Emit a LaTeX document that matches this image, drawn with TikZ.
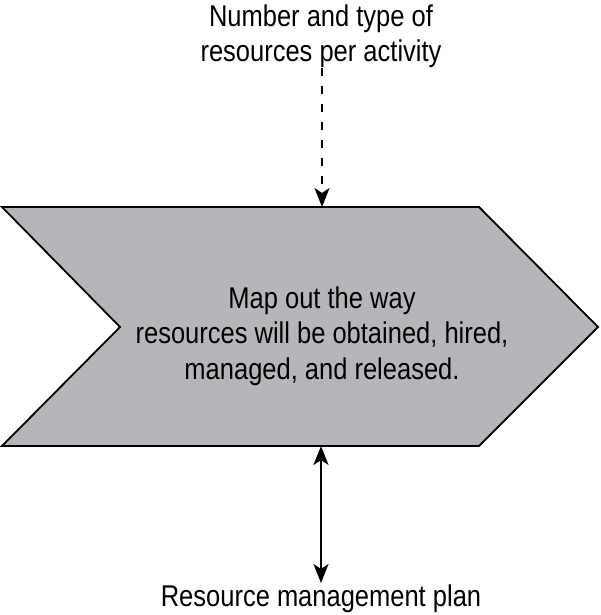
\documentclass[tikz,border=0pt]{standalone}
\usepackage{fontspec}
\setmainfont[FakeStretch=0.85]{Liberation Sans}
\usetikzlibrary{arrows.meta}
\definecolor{chevgray}{HTML}{B5B6B9}
\tikzset{
  lbl/.style={align=center, inner sep=0pt, font=\fontsize{30}{35.5}\selectfont, text=black},
  myarr/.tip={Stealth[length=19pt, width=15pt, inset=5pt]},
  conn/.style={line width=2pt, draw=black},
}
\begin{document}
\begin{tikzpicture}[x=1pt, y=-1pt]
\useasboundingbox (0,0) rectangle (600,615);
% chevron
\draw[fill=chevgray, line width=1.8pt, line join=miter]
  (2,207) -- (479,207) -- (598,327) -- (479,446) -- (2,446) -- (120,327) -- cycle;
\coordinate (chevtop) at (322,207);
\coordinate (chevbot) at (321,446);
\node[lbl, anchor=base] (top) at (321,62) {Number and type of\\resources per activity};
\node[lbl] (mid) at (322,336) {Map out the way\\resources will be obtained, hired,\\managed, and released.};
\node[lbl, anchor=base] (bot) at (321,606) {Resource management plan};
\coordinate (topend) at (322,68);
\coordinate (botend) at (321,583);
\draw[conn, dash pattern=on 8pt off 10pt, -{myarr}] (topend) -- (chevtop);
\draw[conn, {myarr}-{myarr}] (chevbot) -- (botend);
\end{tikzpicture}
\end{document}
